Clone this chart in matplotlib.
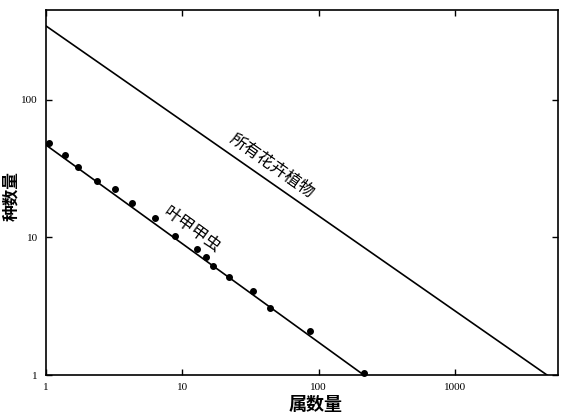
import numpy as np
import matplotlib
matplotlib.use("Agg")
import matplotlib.pyplot as plt
from matplotlib.ticker import FixedLocator, NullLocator

plt.rcParams['font.family'] = ['Noto Sans CJK SC', 'DejaVu Sans']

# beetle points (genus count vs species count)
beetle_x = [1.05, 1.37, 1.72, 2.36, 3.2, 4.24, 6.3, 8.8, 12.7, 14.8, 16.8,
            21.8, 32.9, 43.6, 85.9, 214]
beetle_y = [49, 39.8, 32.6, 25.9, 22.5, 17.9, 13.9, 10.3, 8.2, 7.25, 6.2,
            5.2, 4.08, 3.08, 2.1, 1.04]
# fitted lines (endpoints)
beetle_fit_x = [1, 214]
beetle_fit_y = [47, 1]
plant_fit_x = [1, 4720]
plant_fit_y = [345, 1]

x_ticks = [1, 10, 100, 1000]
x_ticklabels = ["1", "10", "100", "1000"]
y_ticks = [1, 10, 100]
y_ticklabels = ["1", "10", "100"]

fig = plt.figure(figsize=(5.66, 4.2), dpi=100)
ax = fig.add_axes([0.0813, 0.107, 0.905, 0.869])

ax.plot(plant_fit_x, plant_fit_y, color="black", linewidth=1.2)
ax.plot(beetle_fit_x, beetle_fit_y, color="black", linewidth=1.2)
ax.plot(beetle_x, beetle_y, "o", color="black", markersize=4, clip_on=False)

ax.set_xscale("log")
ax.set_yscale("log")
ax.set_xlim(1, 5700)
ax.set_ylim(1, 450)

ax.xaxis.set_major_locator(FixedLocator(x_ticks))
ax.xaxis.set_minor_locator(NullLocator())
ax.set_xticklabels(x_ticklabels, family="Liberation Serif", fontsize=8)
ax.yaxis.set_major_locator(FixedLocator(y_ticks))
ax.yaxis.set_minor_locator(NullLocator())
ax.set_yticklabels(y_ticklabels, family="Liberation Serif", fontsize=8)
ax.tick_params(direction="in", length=4, width=1, top=True, right=True, pad=6)
for s in ax.spines.values():
    s.set_linewidth(1.2)

ax.set_xlabel("属数量", fontsize=13, fontweight="bold")
ax.xaxis.set_label_coords(0.527, -0.055)
ax.set_ylabel("种数量", fontsize=12, fontweight="bold")
ax.yaxis.set_label_coords(-0.05, 0.49)

# labels placed in pixel coordinates (origin bottom-left)
ax.text(272, 420 - 166, "所有花卉植物", transform=None, fontsize=12,
        rotation=-35, rotation_mode="anchor", ha="center", va="center")
ax.text(192, 420 - 230, "叶甲甲虫", transform=None, fontsize=12,
        rotation=-36, rotation_mode="anchor", ha="center", va="center")

fig.savefig("out.png", dpi=100)
